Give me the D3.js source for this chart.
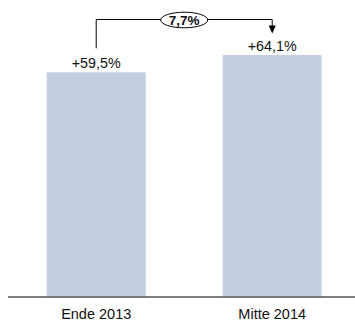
<!DOCTYPE html>
<html>
<head>
<meta charset="utf-8">
<script src="https://cdn.jsdelivr.net/npm/d3@7"></script>
<style>
  html, body { margin: 0; padding: 0; background: #fff; }
  svg { display: block; font-family: "Liberation Sans", Arial, Helvetica, sans-serif; }
</style>
</head>
<body>
<svg id="chart" width="355" height="325"></svg>
<script>
// Anteil je Stichtag (in %)
const categories = ["Ende 2013", "Mitte 2014"];
const values = [59.5, 64.1];
const valueLabels = ["+59,5%", "+64,1%"];
const changeLabel = "7,7%";

const svg = d3.select("#chart");
const baseY = 296.5;

const x = d3.scaleBand()
  .domain(categories)
  .range([8, 360.4])
  .paddingInner(0.4375)
  .paddingOuter(0.22);

const y = d3.scaleLinear()
  .domain([0, 64.1])
  .range([baseY, 55]);

// Balken
svg.selectAll("rect.bar")
  .data(values)
  .join("rect")
  .attr("class", "bar")
  .attr("x", (d, i) => x(categories[i]))
  .attr("y", d => y(d))
  .attr("width", x.bandwidth())
  .attr("height", d => y(0) - y(d))
  .attr("fill", "#c3cfe1");

// Werte über den Balken
svg.selectAll("text.val")
  .data(values)
  .join("text")
  .attr("class", "val")
  .attr("x", (d, i) => x(categories[i]) + x.bandwidth() / 2)
  .attr("y", d => y(d) - 4.5)
  .attr("text-anchor", "middle")
  .attr("font-size", "14.3px")
  .attr("fill", "#111")
  .text((d, i) => valueLabels[i]);

// Achse
const axis = d3.axisBottom(x).tickSize(0).tickPadding(12);
const gAxis = svg.append("g")
  .attr("transform", `translate(0,${baseY})`)
  .call(axis);
gAxis.select(".domain").attr("d", "M8,0.5H355").attr("stroke", "#000").attr("stroke-width", 1);
gAxis.selectAll(".tick text")
  .attr("font-size", "14.5px")
  .attr("font-family", "'Liberation Sans', Arial, sans-serif")
  .attr("fill", "#111");

// Veränderungs-Klammer
const x1 = x(categories[0]) + x.bandwidth() / 2;
const x2 = x(categories[1]) + x.bandwidth() / 2;
const topY = 19.5;
const arrowTip = 33.5;

svg.append("path")
  .attr("d", `M${x1},${y(values[0]) - 24}V${topY}H${x2}V${arrowTip - 6}`)
  .attr("fill", "none")
  .attr("stroke", "#000")
  .attr("stroke-width", 1);

svg.append("path")
  .attr("d", `M${x2 - 3.5},${arrowTip - 8}L${x2 + 3.5},${arrowTip - 8}L${x2},${arrowTip}Z`)
  .attr("fill", "#000");

const cx = (x1 + x2) / 2;
svg.append("ellipse")
  .attr("cx", cx)
  .attr("cy", 20)
  .attr("rx", 23.5)
  .attr("ry", 7.8)
  .attr("fill", "#fff")
  .attr("stroke", "#000")
  .attr("stroke-width", 1);

svg.append("text")
  .attr("x", cx)
  .attr("y", 25)
  .attr("text-anchor", "middle")
  .attr("font-size", "13.5px")
  .attr("font-weight", "bold")
  .attr("fill", "#111")
  .text(changeLabel);
</script>
</body>
</html>
